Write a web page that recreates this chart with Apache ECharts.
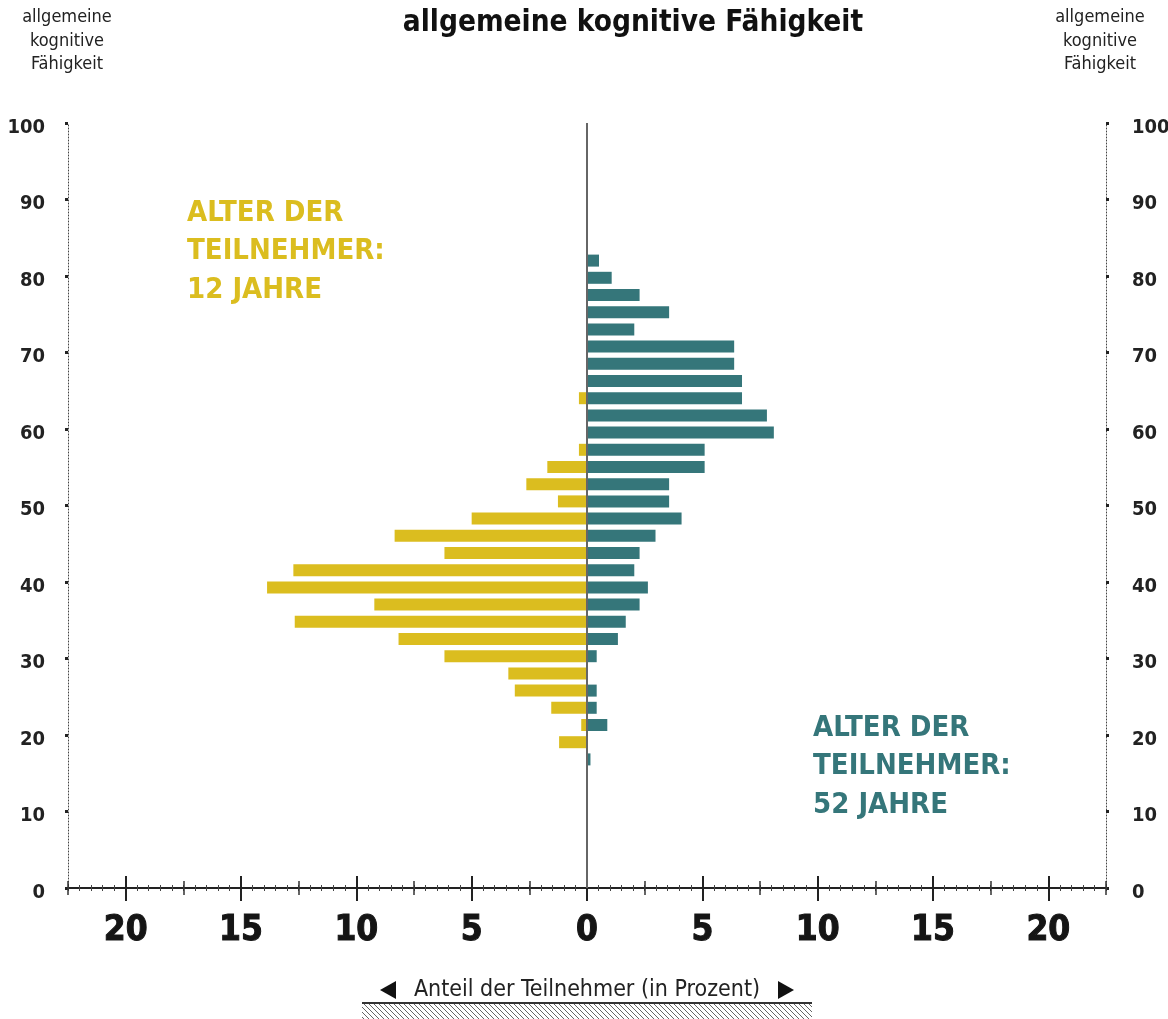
<!DOCTYPE html>
<html>
<head>
<meta charset="utf-8">
<title>allgemeine kognitive Fähigkeit</title>
<script src="https://cdn.jsdelivr.net/npm/echarts@6/dist/echarts.min.js"></script>
<style>
  html, body { margin: 0; padding: 0; background: #fff; }
  #chart { width: 1168px; height: 1019px; }
</style>
</head>
<body>
<div id="chart"></div>
<script>
// score bins (centre of each 2.25-wide bin), bottom to top
const bins = ['16.9', '19.1', '21.4', '23.6', '25.9', '28.1', '30.4', '32.6', '34.9', '37.1',
  '39.4', '41.6', '43.9', '46.1', '48.4', '50.6', '52.9', '55.1', '57.4', '59.6',
  '61.9', '64.1', '66.4', '68.6', '70.9', '73.1', '75.4', '77.6', '79.9', '82.1'];

// Anteil der Teilnehmer in Prozent, 12-Jährige (drawn to the left)
const age12 = [0, 1.21, 0.25, 1.55, 3.13, 3.41, 6.18, 8.17, 12.67, 9.22,
  13.87, 12.73, 6.18, 8.34, 5.0, 1.26, 2.63, 1.72, 0.35, 0,
  0, 0.35, 0, 0, 0, 0, 0, 0, 0, 0];

// Anteil der Teilnehmer in Prozent, 52-Jährige (drawn to the right)
const age52 = [0.15, 0, 0.88, 0.42, 0.42, 0, 0.42, 1.34, 1.68, 2.28,
  2.64, 2.05, 2.28, 2.97, 4.1, 3.56, 3.56, 5.1, 5.1, 8.1,
  7.8, 6.72, 6.72, 6.38, 6.38, 2.05, 3.56, 2.28, 1.07, 0.52];

const xTicks = [-20, -15, -10, -5, 0, 5, 10, 15, 20];

const YELLOW = '#dbbd1f';
const TEAL = '#35767a';
const COND = "'DejaVu Sans Condensed', sans-serif";

// hatch pattern for the box under the axis title
const hatch = document.createElement('canvas');
hatch.width = 5;
hatch.height = 5;
const hctx = hatch.getContext('2d');
hctx.strokeStyle = '#666';
hctx.lineWidth = 1;
hctx.beginPath();
hctx.moveTo(-1, -1); hctx.lineTo(6, 6);
hctx.moveTo(4, -1); hctx.lineTo(6, 1);
hctx.moveTo(-1, 4); hctx.lineTo(1, 6);
hctx.stroke();

const chart = echarts.init(document.getElementById('chart'));

const tickAxis = (extra) => Object.assign({
  gridIndex: 0,
  type: 'value',
  min: -22.5,
  max: 22.5,
  position: 'bottom',
  axisLine: { show: false, onZero: false },
  axisLabel: { show: false },
  splitLine: { show: false }
}, extra);

// y labels sit a little below their tick dot
const yLabel = {
  formatter: (v) => '{n|' + v + '}',
  rich: {
    n: {
      fontSize: 20,
      fontWeight: 'bold',
      fontFamily: COND,
      color: '#222',
      padding: [9, 0, 0, 0]
    }
  }
};

const option = {
  animation: false,
  backgroundColor: '#fff',
  grid: [
    { left: 68, right: 62, top: 123, bottom: 131, outerBoundsMode: 'none' },
    { left: 68, right: 62, top: 252, bottom: 251, outerBoundsMode: 'none' }
  ],
  xAxis: [
    tickAxis({
      axisLine: { show: true, onZero: false, lineStyle: { color: '#222', width: 2 } },
      axisTick: { show: false },
      axisLabel: {
        show: true,
        customValues: xTicks,
        formatter: (v) => String(Math.abs(v)),
        margin: 25,
        fontSize: 35,
        fontWeight: 'bold',
        fontFamily: COND,
        color: '#151515',
        textBorderColor: '#151515',
        textBorderWidth: 1
      }
    }),
    // minor ticks every 0.5
    tickAxis({ interval: 0.5, offset: -3, axisTick: { length: 6, lineStyle: { color: '#444', width: 1 } } }),
    // medium ticks every 2.5
    tickAxis({ interval: 2.5, offset: -7, axisTick: { length: 14, lineStyle: { color: '#333', width: 1.5 } } }),
    // major ticks
    tickAxis({ offset: -12, axisTick: { customValues: xTicks, length: 25, lineStyle: { color: '#222', width: 2 } } }),
    // bars
    { gridIndex: 1, type: 'value', min: -22.5, max: 22.5, show: false }
  ],
  yAxis: [
    {
      gridIndex: 0, type: 'value', min: 0, max: 100, interval: 10, position: 'left',
      axisLine: { show: true, onZero: false, lineStyle: { color: '#444', width: 1, type: [1, 2] } },
      axisTick: { show: true, length: 3, lineStyle: { color: '#222', width: 3 } },
      axisLabel: Object.assign({ margin: 23 }, yLabel),
      splitLine: { show: false }
    },
    {
      gridIndex: 0, type: 'value', min: 0, max: 100, interval: 10, position: 'right',
      axisLine: { show: true, onZero: false, lineStyle: { color: '#444', width: 1, type: [1, 2] } },
      axisTick: { show: true, length: 3, lineStyle: { color: '#222', width: 3 } },
      axisLabel: Object.assign({ margin: 26 }, yLabel),
      splitLine: { show: false }
    },
    {
      gridIndex: 1, type: 'category', data: bins, show: false
    }
  ],
  series: [
    {
      name: '12 Jahre',
      type: 'bar',
      xAxisIndex: 4,
      yAxisIndex: 2,
      barWidth: 12,
      barGap: '-100%',
      itemStyle: { color: YELLOW },
      data: age12.map((v) => -v)
    },
    {
      name: '52 Jahre',
      type: 'bar',
      xAxisIndex: 4,
      yAxisIndex: 2,
      barWidth: 12,
      barGap: '-100%',
      itemStyle: { color: TEAL },
      data: age52
    },
    {
      // centre line at 0 %
      type: 'line',
      xAxisIndex: 0,
      yAxisIndex: 0,
      data: [],
      silent: true,
      z: 5,
      markLine: {
        silent: true,
        symbol: 'none',
        label: { show: false },
        lineStyle: { color: '#666', width: 2, type: 'solid' },
        data: [{ xAxis: 0 }]
      }
    }
  ],
  graphic: [
    {
      type: 'text', x: 633, y: 23,
      style: {
        text: 'allgemeine kognitive Fähigkeit',
        fontSize: 29.5, fontWeight: 'bold', fontFamily: COND,
        fill: '#111', align: 'center', verticalAlign: 'middle'
      }
    },
    {
      type: 'text', x: 67, y: 6,
      style: {
        text: 'allgemeine\nkognitive\nFähigkeit',
        fontSize: 18, fontFamily: COND, lineHeight: 23.5,
        fill: '#222', align: 'center', verticalAlign: 'top'
      }
    },
    {
      type: 'text', x: 1100, y: 6,
      style: {
        text: 'allgemeine\nkognitive\nFähigkeit',
        fontSize: 18, fontFamily: COND, lineHeight: 23.5,
        fill: '#222', align: 'center', verticalAlign: 'top'
      }
    },
    {
      type: 'text', x: 187, y: 194,
      style: {
        text: 'ALTER DER\nTEILNEHMER:\n12 JAHRE',
        fontSize: 29, fontWeight: 'bold', fontFamily: COND, lineHeight: 38.5,
        fill: YELLOW, align: 'left', verticalAlign: 'top'
      }
    },
    {
      type: 'text', x: 813, y: 709,
      style: {
        text: 'ALTER DER\nTEILNEHMER:\n52 JAHRE',
        fontSize: 29, fontWeight: 'bold', fontFamily: COND, lineHeight: 38.5,
        fill: TEAL, align: 'left', verticalAlign: 'top'
      }
    },
    {
      type: 'text', x: 587, y: 990,
      style: {
        text: 'Anteil der Teilnehmer (in Prozent)',
        fontSize: 23, fontFamily: COND,
        fill: '#222', align: 'center', verticalAlign: 'middle'
      }
    },
    {
      type: 'polygon',
      shape: { points: [[380, 990], [396, 981], [396, 999]] },
      style: { fill: '#111' }
    },
    {
      type: 'polygon',
      shape: { points: [[794, 990], [778, 981], [778, 999]] },
      style: { fill: '#111' }
    },
    {
      type: 'rect',
      shape: { x: 362, y: 1004, width: 450, height: 15 },
      style: { fill: { image: hatch, repeat: 'repeat' } }
    },
    {
      type: 'line',
      shape: { x1: 362, y1: 1003, x2: 812, y2: 1003 },
      style: { stroke: '#333', lineWidth: 2 }
    }
  ]
};

chart.setOption(option);
</script>
</body>
</html>
